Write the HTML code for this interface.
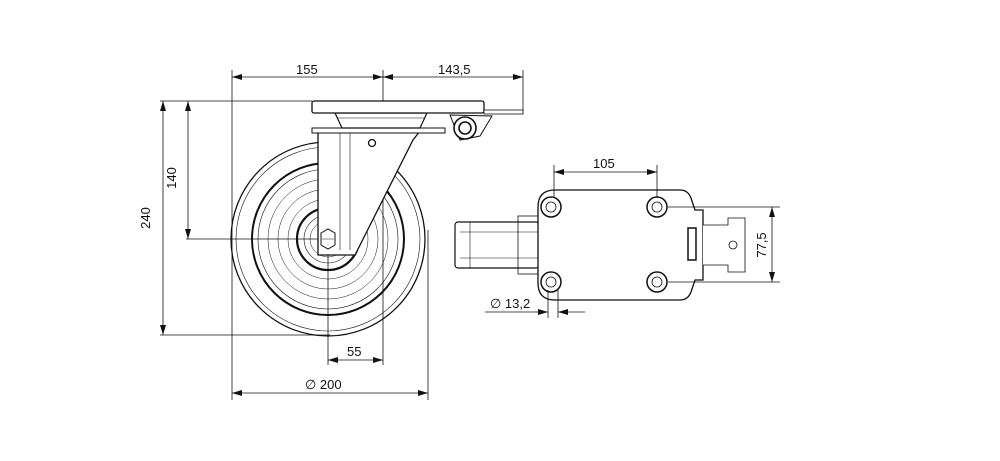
<!DOCTYPE html>
<html><head><style>
html,body{margin:0;padding:0;background:#fff}
svg{display:block}
text{font-family:"Liberation Sans",sans-serif;font-size:13px;fill:#111}
</style></head><body>
<svg width="1000" height="461" viewBox="0 0 1000 461" xmlns="http://www.w3.org/2000/svg">
<defs>
<marker id="a" viewBox="0 0 10 6" refX="10" refY="3" markerWidth="10" markerHeight="6" orient="auto-start-reverse" markerUnits="userSpaceOnUse"><path d="M0,0 L10,3 L0,6 z" fill="#111"/></marker>
</defs>
<g stroke="#111" stroke-width="0.8" fill="none">
<!-- extension lines left view -->
<line x1="232" y1="70" x2="232" y2="400"/>
<line x1="383" y1="70" x2="383" y2="365"/>
<line x1="523" y1="70" x2="523" y2="114"/>
<line x1="428" y1="230" x2="428" y2="400"/>
<line x1="328" y1="240" x2="328" y2="365"/>
<line x1="160" y1="101" x2="312" y2="101"/>
<line x1="186" y1="239" x2="345" y2="239"/>
<line x1="160" y1="335" x2="330" y2="335"/>
<!-- dims -->
<line x1="232" y1="77" x2="383" y2="77" marker-start="url(#a)" marker-end="url(#a)"/>
<line x1="383" y1="77" x2="523" y2="77" marker-start="url(#a)" marker-end="url(#a)"/>
<line x1="163" y1="101" x2="163" y2="335" marker-start="url(#a)" marker-end="url(#a)"/>
<line x1="188" y1="101" x2="188" y2="239" marker-start="url(#a)" marker-end="url(#a)"/>
<line x1="328" y1="360" x2="383" y2="360" marker-start="url(#a)" marker-end="url(#a)"/>
<line x1="232" y1="393" x2="428" y2="393" marker-start="url(#a)" marker-end="url(#a)"/>
</g>
<text x="296" y="74">155</text>
<text x="438" y="74">143,5</text>
<text x="172" y="178" transform="rotate(-90 172 178)" text-anchor="middle" dy="4">140</text>
<text x="146" y="218" transform="rotate(-90 146 218)" text-anchor="middle" dy="4">240</text>
<text x="347" y="356">55</text>
<text x="305" y="389">∅ 200</text>
<!-- wheel -->
<g stroke="#111" fill="none">
<circle cx="328" cy="239" r="97" stroke-width="1.3"/>
<circle cx="328" cy="239" r="92" stroke-width="0.6"/>
<circle cx="328" cy="239" r="76" stroke-width="2"/>
<circle cx="328" cy="239" r="70" stroke-width="0.6"/>
<circle cx="328" cy="239" r="60" stroke-width="0.5"/>
<circle cx="328" cy="239" r="50" stroke-width="0.5"/>
<circle cx="328" cy="239" r="40" stroke-width="0.5"/>
<circle cx="328" cy="239" r="31" stroke-width="2.2"/>
<circle cx="328" cy="239" r="24" stroke-width="0.6"/>
<circle cx="328" cy="239" r="18" stroke-width="0.5"/>
</g>
<!-- fork -->
<path d="M318,131 L318,255 L355,255 L413,140 L420,131 Z" fill="#fff" stroke="#111" stroke-width="1.3"/>
<line x1="340" y1="131" x2="340" y2="250" stroke="#111" stroke-width="0.6"/>
<line x1="350" y1="131" x2="350" y2="250" stroke="#111" stroke-width="0.6"/>
<circle cx="372" cy="143" r="3.5" fill="none" stroke="#111" stroke-width="1.3"/>
<polygon points="321,233 328,229 335,233 335,245 328,249 321,245" fill="#fff" stroke="#111" stroke-width="1"/>
<line x1="322" y1="239" x2="334" y2="239" stroke="#111" stroke-width="0.5"/>
<rect x="312" y="128" width="133" height="5" fill="#fff" stroke="#111" stroke-width="1"/>
<!-- swivel housing -->
<path d="M335,113 L427,113 L420,128 L342,128 Z" fill="#fff" stroke="#111" stroke-width="1.2"/>
<line x1="338" y1="118" x2="424" y2="118" stroke="#111" stroke-width="0.6"/>
<!-- plate -->
<rect x="312" y="101" width="172" height="12" rx="2" fill="#fff" stroke="#111" stroke-width="1.3"/>
<rect x="484" y="110" width="39" height="4" fill="#fff" stroke="#111" stroke-width="0.8"/>
<path d="M450,115 L460,140 L480,136 L492,116 Z" fill="#fff" stroke="#111" stroke-width="1"/>
<circle cx="465" cy="128" r="11" fill="#fff" stroke="#111" stroke-width="1.6"/>
<circle cx="465" cy="128" r="6" fill="none" stroke="#111" stroke-width="1.6"/>
<!-- right view -->
<g stroke="#111" fill="none">
<rect x="455" y="222" width="84" height="46" rx="3" fill="#fff" stroke-width="1.2"/>
<line x1="470" y1="222" x2="470" y2="268" stroke-width="0.6"/>
<line x1="460" y1="232" x2="539" y2="232" stroke-width="0.6"/>
<line x1="460" y1="258" x2="539" y2="258" stroke-width="0.6"/>
<rect x="518" y="216" width="21" height="58" stroke-width="0.8"/>
<path d="M555,190 L680,190 Q688,190 691,198 L695,210 L703,210 L703,280 L695,280 L691,292 Q688,300 680,300 L555,300 Q538,300 538,283 L538,207 Q538,190 555,190 Z" fill="#fff" stroke-width="1.3"/>
<path d="M703,225 L728,225 L728,218 L745,218 L745,272 L728,272 L728,265 L703,265" fill="#fff" stroke-width="0.8"/>
<circle cx="733" cy="245" r="4" stroke-width="0.8"/>
<rect x="688" y="228" width="8" height="32" stroke-width="1.5"/>
<circle cx="551" cy="207" r="10" stroke-width="1.5"/><circle cx="551" cy="207" r="5" stroke-width="0.8"/>
<circle cx="657" cy="207" r="10" stroke-width="1.5"/><circle cx="657" cy="207" r="5" stroke-width="0.8"/>
<circle cx="551" cy="282" r="10" stroke-width="1.5"/><circle cx="551" cy="282" r="5" stroke-width="0.8"/>
<circle cx="657" cy="282" r="10" stroke-width="1.5"/><circle cx="657" cy="282" r="5" stroke-width="0.8"/>
<g stroke-width="0.8">
<line x1="554" y1="165" x2="554" y2="198"/>
<line x1="657" y1="165" x2="657" y2="198"/>
<line x1="554" y1="172" x2="657" y2="172" marker-start="url(#a)" marker-end="url(#a)"/>
<line x1="668" y1="207" x2="780" y2="207"/>
<line x1="668" y1="282" x2="780" y2="282"/>
<line x1="772" y1="207" x2="772" y2="282" marker-start="url(#a)" marker-end="url(#a)"/>
<line x1="548" y1="290" x2="548" y2="318"/>
<line x1="558" y1="290" x2="558" y2="318"/>
<line x1="485" y1="312" x2="548" y2="312" marker-end="url(#a)"/>
<line x1="585" y1="312" x2="558" y2="312" marker-end="url(#a)"/>
</g>
</g>
<text x="593" y="168">105</text>
<text x="762" y="245" transform="rotate(-90 762 245)" text-anchor="middle" dy="4">77,5</text>
<text x="490" y="308">∅ 13,2</text>
</svg>
</body></html>
